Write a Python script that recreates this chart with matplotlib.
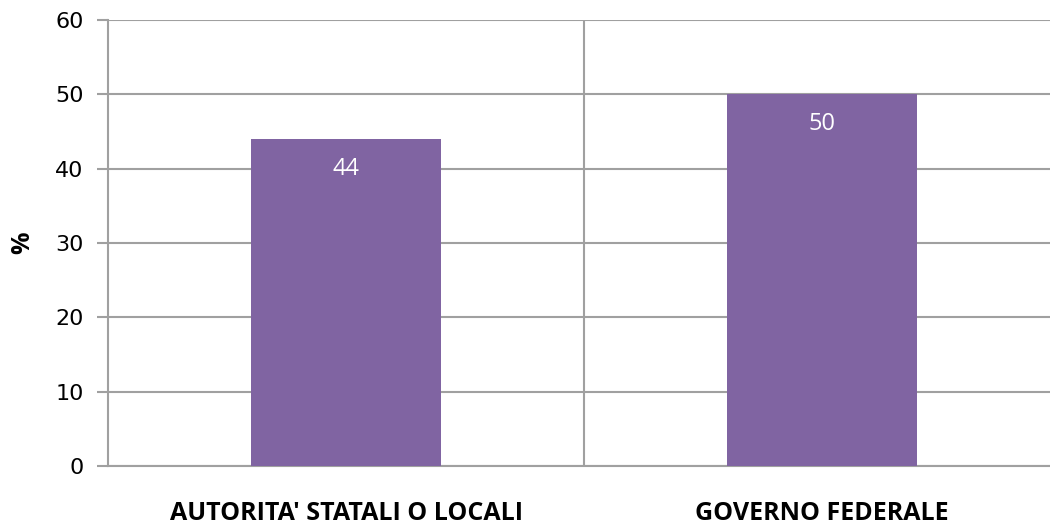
import matplotlib
matplotlib.use('Agg')
import matplotlib.pyplot as plt

categories = ["AUTORITA' STATALI O LOCALI", "GOVERNO FEDERALE"]
values = [44, 50]
yticks = [0, 10, 20, 30, 40, 50, 60]

bar_color = '#8064A2'
grid_color = '#A0A0A0'

fig = plt.figure(figsize=(10.5, 5.27), dpi=100)
# plot area runs a little past the right edge, like the original
ax = fig.add_axes([108/1050, 61/527, 952/1050, 446/527])

x = list(range(len(categories)))
bars = ax.bar(x, values, width=0.4, color=bar_color, zorder=3)

for b, v in zip(bars, values):
    ax.text(b.get_x() + b.get_width()/2, v - 4, str(v), ha='center', va='center',
            color='white', fontsize=17, family='Open Sans', zorder=4)

ax.set_xlim(-0.5, len(categories) - 0.5)
ax.set_ylim(0, 60)
ax.set_yticks(yticks)
ax.set_yticklabels([str(t) for t in yticks], fontsize=16, family='DejaVu Sans')
ax.yaxis.grid(True, color=grid_color, linewidth=1.5, zorder=0)

# separators between categories
ax.set_xticks([0.5], minor=True)
ax.xaxis.grid(True, which='minor', color=grid_color, linewidth=1.5, zorder=0)
ax.set_xticks(x)
ax.set_xticklabels(categories, fontsize=18, fontweight='bold', family='Open Sans')
ax.tick_params(axis='x', which='both', length=0, pad=25)
ax.tick_params(axis='y', length=8, width=1.5, color=grid_color, pad=9.5)

for side in ['top', 'right']:
    ax.spines[side].set_visible(False)
for side in ['left', 'bottom']:
    ax.spines[side].set_color(grid_color)
    ax.spines[side].set_linewidth(1.5)

ax.set_ylabel('%', fontsize=18, fontweight='bold', family='Open Sans', labelpad=14)

fig.savefig('out.png', dpi=100)
